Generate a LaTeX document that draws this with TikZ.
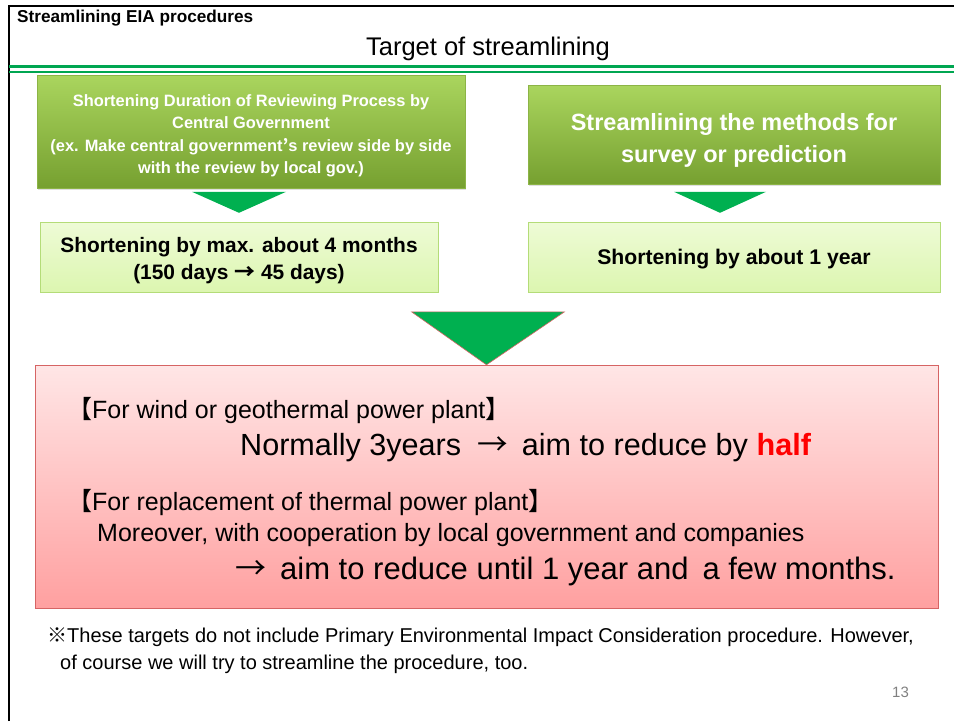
\documentclass[tikz,border=0pt]{standalone}
\usepackage{fontspec}
\setmainfont{Liberation Sans}
\newfontfamily\cjk{Noto Sans CJK JP}
\usetikzlibrary{calc,shadows}

\definecolor{rulegreen}{RGB}{0,166,81}
\definecolor{tipgreen}{RGB}{0,176,80}
\definecolor{leaftop}{RGB}{170,213,94}
\definecolor{leafbot}{RGB}{118,160,48}
\definecolor{leafedge}{RGB}{140,180,70}
\definecolor{paletop}{RGB}{238,251,214}
\definecolor{palebot}{RGB}{220,246,176}
\definecolor{paleedge}{RGB}{180,220,120}
\definecolor{pinktop}{RGB}{255,230,230}
\definecolor{pinkbot}{RGB}{255,160,160}
\definecolor{pinkedge}{RGB}{214,100,100}

\begin{document}
\begin{tikzpicture}[x=1pt,y=-1pt,
	leafbox/.style={rectangle,draw=leafedge,top color=leaftop,bottom color=leafbot,text=white,align=center,inner sep=0pt,
		drop shadow={opacity=0.25,shadow xshift=1pt,shadow yshift=-2pt}},
	palebox/.style={rectangle,draw=paleedge,top color=paletop,bottom color=palebot,align=center,inner sep=0pt},
	tip/.style={fill=tipgreen},
	txt/.style={anchor=west,inner sep=0pt}]
	\useasboundingbox (0,0) rectangle (954,721);
	\draw[line width=2pt](9,721)--(9,6)--(954,6);
	\draw[rulegreen,line width=3pt](9,66.5)--(954,66.5);
	\draw[rulegreen,line width=1.2pt](9,72)--(954,72);

	\node[txt,font=\bfseries\fontsize{17.2}{19}\selectfont](hdr) at (17,18){Streamlining EIA procedures};
	\node[font=\fontsize{25.5}{29}\selectfont](title) at (488,49){Target of streamlining};

	\node[leafbox,minimum width=428,minimum height=113,font=\bfseries\fontsize{16.4}{22.5}\selectfont](review) at (251,131.5)
		{\rule{0pt}{20pt}Shortening Duration of Reviewing Process by\\Central Government\\(ex. Make central government{\cjk ’}s review side by side\\with the review by local gov.)};
	\node[leafbox,minimum width=412,minimum height=99,font=\bfseries\fontsize{23.5}{32}\selectfont](method) at (734,134.5)
		{\rule{0pt}{29pt}Streamlining the methods for\\survey or prediction};
	\node[palebox,minimum width=398,minimum height=70,font=\bfseries\fontsize{20.9}{27}\selectfont](cut1) at (239,257)
		{\rule{0pt}{23pt}Shortening by max. about 4 months\\(150 days {\cjk →} 45 days)};
	\node[palebox,minimum width=412,minimum height=70,font=\bfseries\fontsize{21.2}{27}\selectfont](cut2) at (734,257)
		{\rule{0pt}{20pt}Shortening by about 1 year};

	\fill[tip]($(cut1.north)+(-47,-30)$)--($(cut1.north)+(47,-30)$)--($(cut1.north)+(0,-9)$)--cycle;
	\fill[tip]($(cut2.north)+(-60,-30)$)--($(cut2.north)+(32,-30)$)--($(cut2.north)+(-14,-9)$)--cycle;

	\node[rectangle,draw=pinkedge,top color=pinktop,bottom color=pinkbot,minimum width=903,minimum height=243](goal) at (486.5,486.5){};
	\filldraw[tip,draw=pinkedge,line width=0.6pt]($(goal.north)+(-75,-53)$)--($(goal.north)+(78,-53)$)--(goal.north)--cycle;

	\node[txt,font=\fontsize{25}{28}\selectfont](wind) at (67,411){{\cjk 【}For wind or geothermal power plant{\cjk 】}};
	\node[txt,font=\fontsize{30.6}{34}\selectfont](half) at (240,448){Normally 3years\hspace{16pt}{\cjk →}\hspace{14pt}aim to reduce by {\color{red}\bfseries half}};
	\node[txt,font=\fontsize{25}{28}\selectfont](thermal) at (67,503){{\cjk 【}For replacement of thermal power plant{\cjk 】}};
	\node[txt,font=\fontsize{25}{28}\selectfont](coop) at (97,535){Moreover, with cooperation by local government and companies};
	\node[txt,font=\fontsize{31}{34}\selectfont](year) at (235,571){{\cjk →}\hspace{14pt}aim to reduce until 1 year and\hspace{14pt}a few months.};

	\node[txt,font=\fontsize{20}{22}\selectfont](note1) at (47,637){{\cjk ※}These targets do not include Primary Environmental Impact Consideration procedure. However,};
	\node[txt,font=\fontsize{20}{22}\selectfont](note2) at (60,664){of course we will try to streamline the procedure, too.};
	\node[txt,text=gray,font=\fontsize{15}{18}\selectfont](page) at (892,692){13};
\end{tikzpicture}
\end{document}
